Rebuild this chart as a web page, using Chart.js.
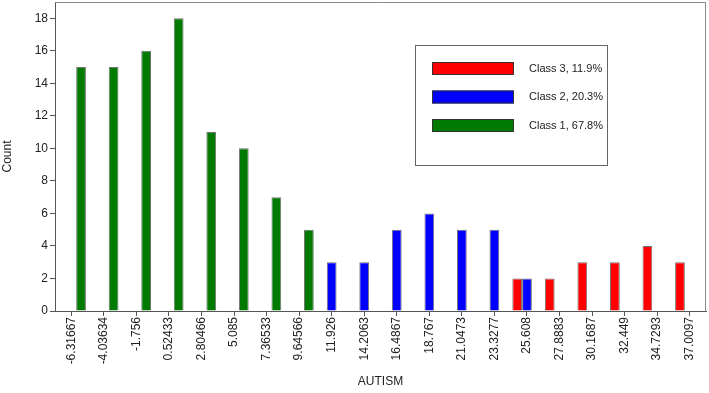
<!DOCTYPE html>
<html>
<head>
<meta charset="utf-8">
<script src="https://cdn.jsdelivr.net/npm/chart.js@4.4.1/dist/chart.umd.min.js"></script>
<style>
  html, body { margin: 0; padding: 0; background: #fff; }
</style>
</head>
<body>
<canvas id="grafico" width="709" height="393"></canvas>
<script>
// Categorías del eje X (valores de AUTISM)
const categorias = ['-6.31667', '-4.03634', '-1.756', '0.52433', '2.80466', '5.085', '7.36533',
  '9.64566', '11.926', '14.2063', '16.4867', '18.767', '21.0473', '23.3277', '25.608',
  '27.8883', '30.1687', '32.449', '34.7293', '37.0097'];

// Conteos por clase (null = sin barra)
const clase3 = [null, null, null, null, null, null, null, null, null, null, null, null, null, null, 2, 2, 3, 3, 4, 3];
const clase2 = [null, null, null, null, null, null, null, null, 3, 3, 5, 6, 5, 5, 2, null, null, null, null, null];
const clase1 = [15, 15, 16, 18, 11, 10, 7, 5, null, null, null, null, null, null, null, null, null, null, null, null];

const etiquetas = ['Class 3, 11.9%', 'Class 2, 20.3%', 'Class 1, 67.8%'];
const colores = ['#ff0000', '#0000ff', '#007a00'];

const fuente = "'Liberation Sans', Arial, sans-serif";

// Leyenda dibujada a mano dentro del área del gráfico
const leyendaCaja = {
  id: 'leyendaCaja',
  afterDraw(chart) {
    const c = chart.ctx;
    const area = chart.chartArea;
    c.save();
    // marco superior y derecho
    c.strokeStyle = '#8a8a8a';
    c.lineWidth = 1;
    c.beginPath();
    c.moveTo(area.left, area.top + 0.5);
    c.lineTo(area.right - 0.5, area.top + 0.5);
    c.lineTo(area.right - 0.5, area.bottom);
    c.stroke();

    // caja de la leyenda
    c.fillStyle = '#fff';
    c.fillRect(415, 45, 192, 120);
    c.strokeStyle = '#666';
    c.strokeRect(415.5, 45.5, 192, 120);

    c.font = '11px ' + fuente;
    c.textBaseline = 'middle';
    chart.data.datasets.forEach((ds, i) => {
      const y = 62 + i * 28.5;
      c.fillStyle = ds.backgroundColor;
      c.fillRect(432, y, 82, 13);
      c.strokeStyle = '#333';
      c.strokeRect(432.5, y + 0.5, 81, 12);
      c.fillStyle = '#222';
      c.fillText(ds.label, 529, y + 6.5);
    });
    c.restore();
  }
};

const ctx = document.getElementById('grafico').getContext('2d');

new Chart(ctx, {
  type: 'bar',
  data: {
    labels: categorias,
    datasets: [clase3, clase2, clase1].map((d, i) => ({
      label: etiquetas[i],
      data: d,
      backgroundColor: colores[i],
      borderColor: 'rgba(0,0,0,0.55)',
      borderWidth: 1,
      categoryPercentage: 0.9,
      barPercentage: 1.0
    }))
  },
  options: {
    responsive: false,
    animation: false,
    events: [],
    layout: { padding: { top: 2, right: 3, left: 0, bottom: 0 } },
    plugins: {
      legend: { display: false },
      tooltip: { enabled: false }
    },
    scales: {
      x: {
        offset: true,
        grid: { display: true, drawOnChartArea: false, offset: false, tickLength: 5, color: '#555' },
        border: { color: '#555' },
        ticks: {
          autoSkip: false,
          minRotation: 90,
          maxRotation: 90,
          padding: 1,
          color: '#222',
          font: { size: 12, family: fuente }
        },
        title: { display: true, text: 'AUTISM', color: '#222', font: { size: 12, family: fuente }, padding: { top: 2, bottom: 4 } },
        afterFit(s) {
          s.height = 82;
          s.paddingLeft = 0;
          s.paddingRight = 0;
        }
      },
      y: {
        min: 0,
        max: 19,
        grid: { display: true, drawOnChartArea: false, tickLength: 5, color: '#555' },
        border: { color: '#555' },
        ticks: {
          stepSize: 2,
          padding: 2,
          color: '#222',
          font: { size: 12, family: fuente },
          callback: (v) => (v % 2 === 0 && v <= 18 ? v : null)
        },
        title: { display: true, text: 'Count', color: '#222', font: { size: 12, family: fuente }, padding: { top: 0, bottom: 0 } },
        afterFit(s) {
          s.width = 55;
          s.paddingTop = 0;
          s.paddingBottom = 0;
        }
      }
    }
  },
  plugins: [leyendaCaja]
});
</script>
</body>
</html>
